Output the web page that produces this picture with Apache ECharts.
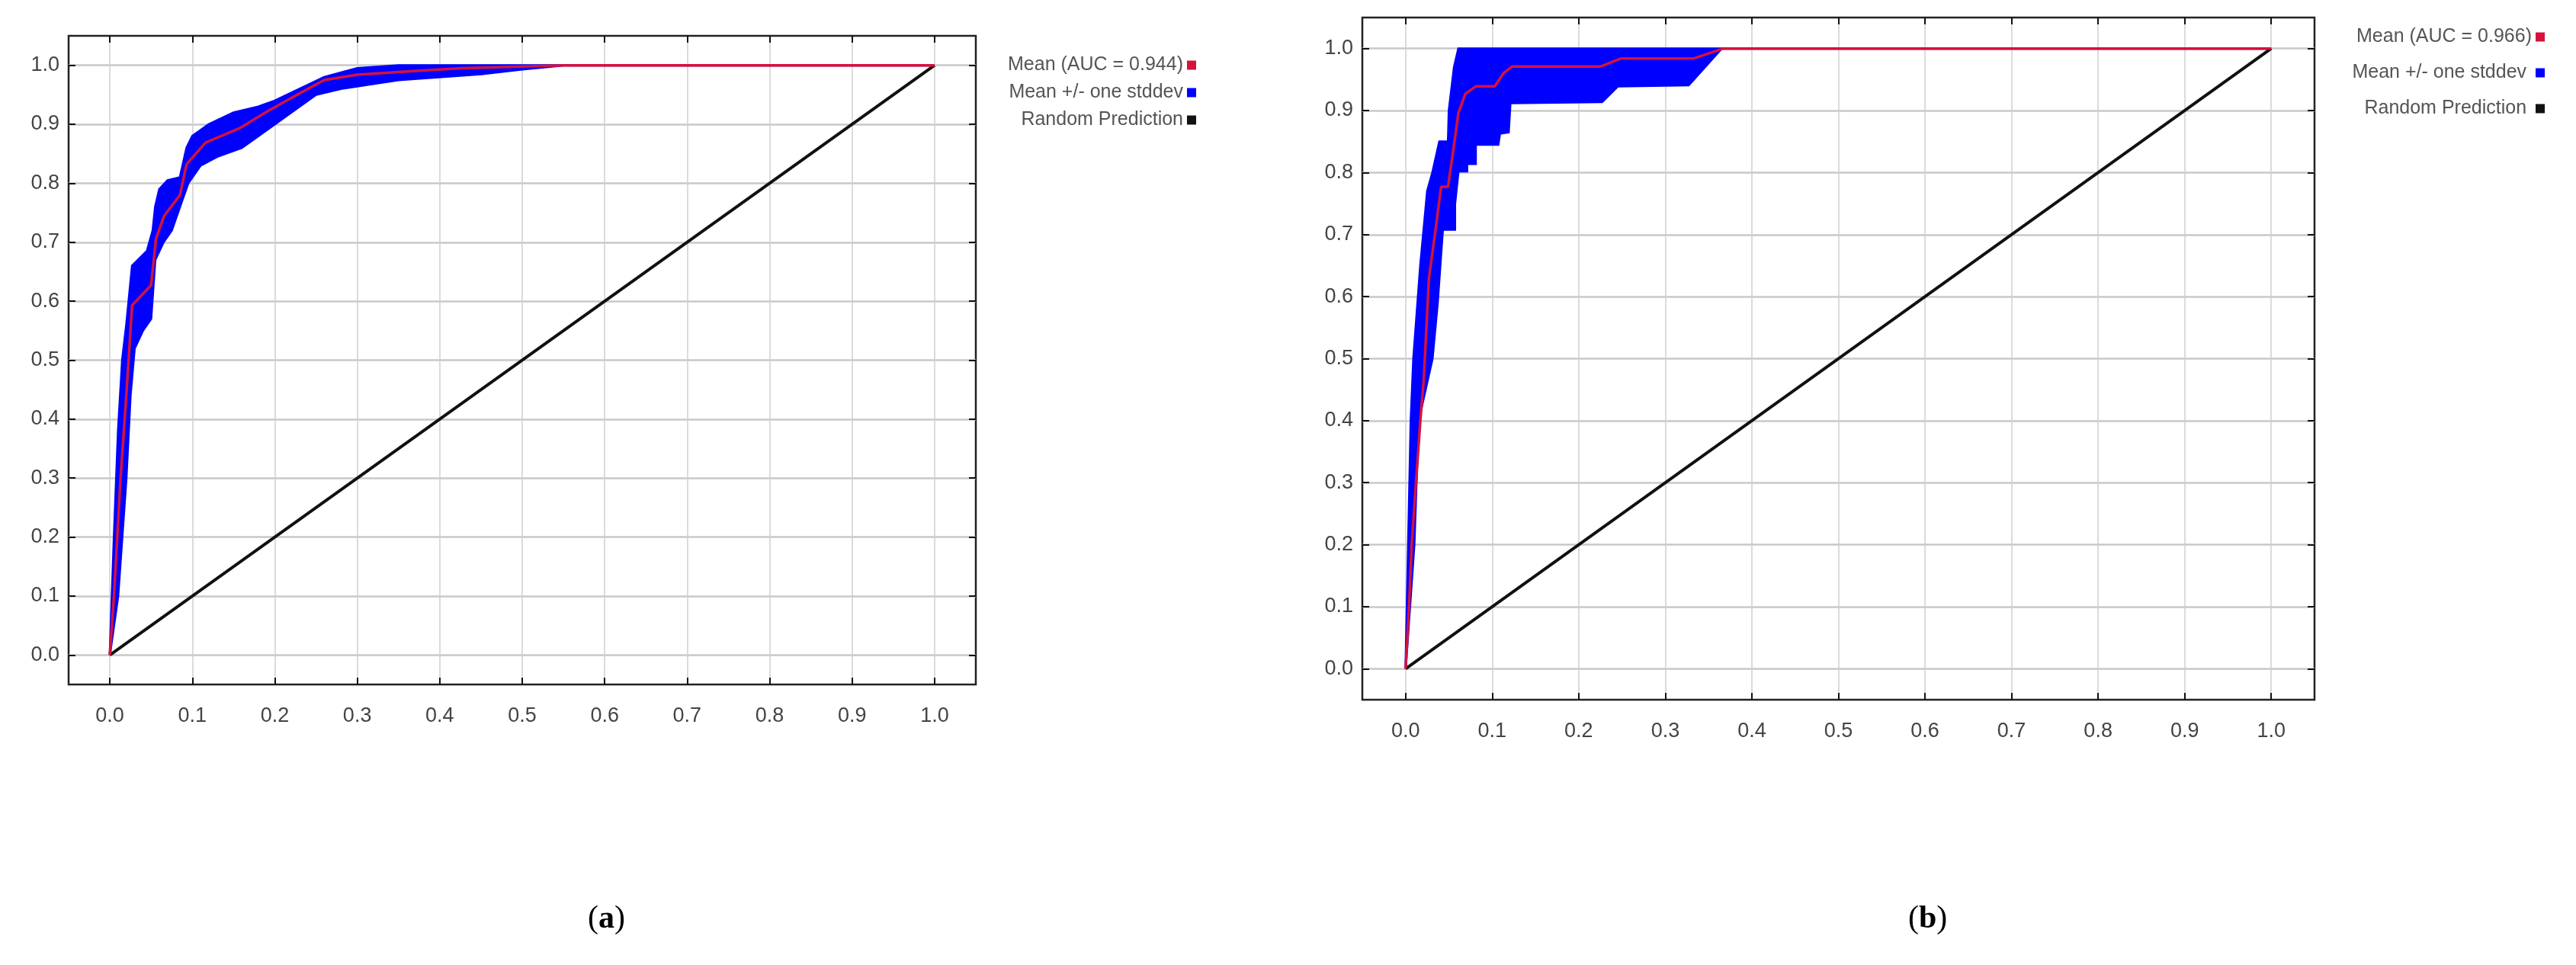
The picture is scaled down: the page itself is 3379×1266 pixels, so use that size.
<!DOCTYPE html>
<html><head><meta charset="utf-8">
<script src="https://cdn.jsdelivr.net/npm/echarts@6/dist/echarts.min.js"></script>
<style>html,body{margin:0;padding:0;background:#fff}#c{width:3379px;height:1266px}</style>
</head><body><div id="c"></div>
<script>
const tickValues = [0,0.1,0.2,0.3,0.4,0.5,0.6,0.7,0.8,0.9,1.0];
const diagonal = [[0,0],[1,1]];

const meanA = [[0,0],[0.005,0.1],[0.009,0.2],[0.013,0.3],[0.017,0.38],[0.021,0.462],[0.027,0.593],[0.05,0.627],[0.056,0.706],[0.066,0.745],[0.085,0.78],[0.093,0.832],[0.116,0.869],[0.157,0.893],[0.19,0.921],[0.231,0.953],[0.26,0.975],[0.3,0.984],[0.364,0.99],[0.426,0.995],[0.55,1.0],[1.0,1.0]];
const upperA = [[0,0],[0.005,0.2],[0.01,0.38],[0.015,0.5],[0.02,0.56],[0.027,0.66],[0.045,0.685],[0.052,0.72],[0.055,0.76],[0.06,0.79],[0.07,0.805],[0.085,0.81],[0.093,0.86],[0.1,0.88],[0.12,0.9],[0.15,0.92],[0.18,0.93],[0.2,0.94],[0.23,0.96],[0.26,0.98],[0.3,0.995],[0.35,1.0],[1.0,1.0]];
const lowerA = [[0,0],[0.01,0.1],[0.02,0.3],[0.025,0.44],[0.03,0.52],[0.04,0.55],[0.05,0.57],[0.055,0.67],[0.065,0.7],[0.075,0.72],[0.085,0.76],[0.095,0.8],[0.11,0.83],[0.13,0.845],[0.16,0.86],[0.19,0.89],[0.22,0.92],[0.25,0.95],[0.28,0.96],[0.35,0.975],[0.45,0.985],[0.5,0.993],[0.55,1.0],[1.0,1.0]];

const meanB = [[0,0],[0.004,0.1],[0.007,0.2],[0.012,0.3],[0.017,0.4],[0.021,0.467],[0.027,0.63],[0.035,0.712],[0.041,0.777],[0.049,0.777],[0.055,0.835],[0.061,0.896],[0.069,0.927],[0.081,0.939],[0.103,0.939],[0.113,0.96],[0.123,0.971],[0.225,0.971],[0.249,0.984],[0.333,0.984],[0.367,1.0],[1.0,1.0]];
const upperB = [[0,0],[0.003,0.2],[0.006,0.4],[0.009,0.5],[0.017,0.65],[0.025,0.77],[0.031,0.8],[0.039,0.85],[0.049,0.85],[0.05,0.9],[0.056,0.97],[0.061,1.0],[1.0,1.0]];
const lowerB = [[0,0],[0.01,0.2],[0.015,0.4],[0.031,0.5],[0.037,0.59],[0.041,0.67],[0.043,0.708],[0.057,0.708],[0.057,0.749],[0.061,0.802],[0.071,0.802],[0.071,0.814],[0.081,0.814],[0.081,0.845],[0.107,0.845],[0.109,0.863],[0.119,0.865],[0.121,0.912],[0.227,0.914],[0.245,0.939],[0.327,0.941],[0.365,1.0],[1.0,1.0]];

const labelsA = ['Mean (AUC = 0.944)','Mean +/- one stddev','Random Prediction'];
const labelsB = ['Mean (AUC = 0.966)','Mean +/- one stddev ','Random Prediction '];

const chart = echarts.init(document.getElementById('c'));
const font = "'Liberation Sans Narrow','Liberation Sans',Arial,sans-serif";

function xAxisDef(gi, pos){
  return {type:'value', gridIndex:gi, min:-0.05, max:1.05, position:pos,
    axisLine:{show:false, onZero:false},
    axisTick:{show:true, inside:true, length:9, customValues:tickValues, lineStyle:{color:'#111',width:2}},
    axisLabel:{show:pos==='bottom', customValues:tickValues, formatter:v=>v.toFixed(1), color:'#444', fontSize:27, fontFamily:font, margin:28},
    splitLine:{show:pos==='bottom', lineStyle:{color:'#cfcfcf',width:1.5}}};
}
function yAxisDef(gi, pos){
  return {type:'value', gridIndex:gi, min:-0.05, max:1.05, position:pos,
    axisLine:{show:false, onZero:false},
    axisTick:{show:true, inside:true, length:9, customValues:tickValues, lineStyle:{color:'#111',width:2}},
    axisLabel:{show:pos==='left', customValues:tickValues, formatter:v=>v.toFixed(1), color:'#444', fontSize:27, fontFamily:font, margin:12},
    splitLine:{show:pos==='left', lineStyle:{color:'#c8c8c8',width:2.5}}};
}
function band(name, up, lo, xi, yi){
  return {type:'custom', name:name, xAxisIndex:xi, yAxisIndex:yi, itemStyle:{color:'#0000ff'}, z:2,
    data:[[0,0]],
    renderItem:function(params, api){
      const pts = up.map(p=>api.coord(p)).concat(lo.slice().reverse().map(p=>api.coord(p)));
      return {type:'polygon', shape:{points:pts}, style:{fill:'#0000ff', stroke:'#0000ff', lineWidth:3}};
    }};
}
function line(name, data, color, w, xi, yi, z){
  return {type:'line', name:name, data:data, xAxisIndex:xi, yAxisIndex:yi, symbol:'none', z:z,
    lineStyle:{color:color,width:w}, itemStyle:{color:color}};
}
function legendDef(names, right, top, gap){
  return {data:names, orient:'vertical', right:right, top:top, align:'right', icon:'rect', itemWidth:12, itemHeight:12, itemGap:gap,
    textStyle:{color:'#555', fontSize:25, fontFamily:"'Liberation Sans',Arial,sans-serif"}};
}

chart.setOption({
  animation:false,
  grid:[
    {left:90, top:47, width:1190, height:851, show:true, borderColor:'#222', borderWidth:2.5, backgroundColor:'transparent'},
    {left:1787, top:23, width:1249, height:895, show:true, borderColor:'#222', borderWidth:2.5, backgroundColor:'transparent'}
  ],
  xAxis:[xAxisDef(0,'bottom'), xAxisDef(0,'top'), xAxisDef(1,'bottom'), xAxisDef(1,'top')],
  yAxis:[yAxisDef(0,'left'), yAxisDef(0,'right'), yAxisDef(1,'left'), yAxisDef(1,'right')],
  legend:[legendDef(labelsA, 1805, 68, 11), legendDef(labelsB, 36, 31, 22)],
  series:[
    band(labelsA[1], upperA, lowerA, 0, 0),
    line(labelsA[0], meanA, '#d4123c', 3.5, 0, 0, 4),
    line(labelsA[2], diagonal, '#111', 4, 0, 0, 3),
    band(labelsB[1], upperB, lowerB, 2, 2),
    line(labelsB[0], meanB, '#d4123c', 3.5, 2, 2, 4),
    line(labelsB[2], diagonal, '#111', 4, 2, 2, 3)
  ],
  graphic:[
    {type:'text', left:803-32, top:1185, style:{text:'({b|a})', font:"42px 'Liberation Serif',serif", fill:'#000', rich:{b:{fontWeight:'bold', fontSize:42, fontFamily:"'Liberation Serif',serif"}}}},
    {type:'text', left:2535-32, top:1185, style:{text:'({b|b})', font:"42px 'Liberation Serif',serif", fill:'#000', rich:{b:{fontWeight:'bold', fontSize:42, fontFamily:"'Liberation Serif',serif"}}}}
  ]
});
</script></body></html>
